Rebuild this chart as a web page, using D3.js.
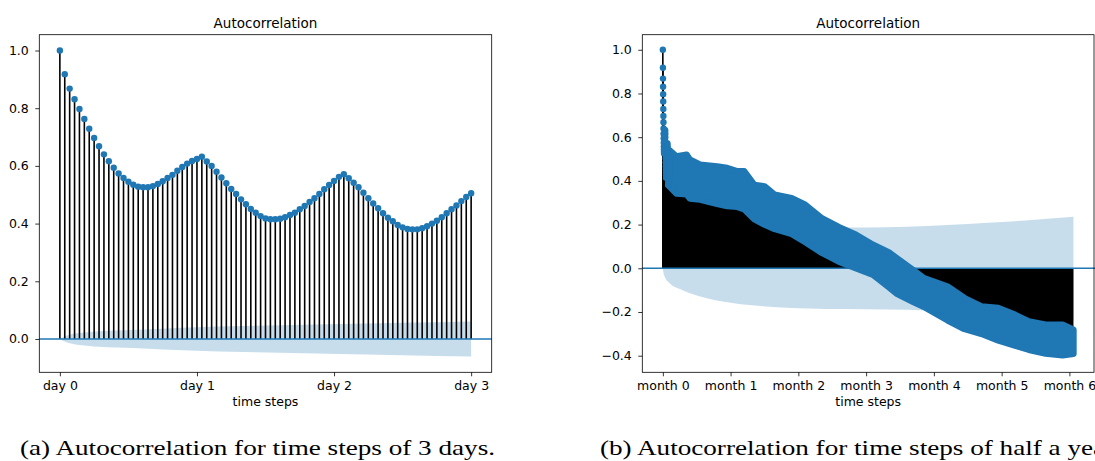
<!DOCTYPE html>
<html>
<head>
<meta charset="utf-8">
<script src="https://cdn.jsdelivr.net/npm/d3@7"></script>
<style>
  body { margin: 0; background: #fff; }
  text { font-family: "DejaVu Sans", sans-serif; fill: #000; }
  .caption { font-family: "Liberation Serif", "DejaVu Serif", serif; }
</style>
</head>
<body>
<svg id="fig" width="1095" height="461"></svg>
<script>
// ---- data ----
// acf for the first 3 days, 28 time steps per day (lags 0..84)
const acfDays = [
  1.000, 0.918, 0.868, 0.831, 0.797, 0.763, 0.729, 0.697, 0.668, 0.640,
  0.616, 0.594, 0.574, 0.558, 0.545, 0.535, 0.528, 0.526, 0.526, 0.530,
  0.537, 0.547, 0.558, 0.569, 0.583, 0.596, 0.608, 0.617, 0.624, 0.632,
  0.615, 0.600, 0.580, 0.560, 0.540, 0.520, 0.503, 0.484, 0.467, 0.451,
  0.438, 0.426, 0.418, 0.415, 0.415, 0.417, 0.422, 0.430, 0.438, 0.450,
  0.461, 0.475, 0.488, 0.503, 0.519, 0.534, 0.548, 0.562, 0.571, 0.557,
  0.542, 0.526, 0.507, 0.488, 0.470, 0.453, 0.436, 0.420, 0.408, 0.395,
  0.387, 0.381, 0.380, 0.380, 0.384, 0.391, 0.400, 0.410, 0.422, 0.436,
  0.450, 0.463, 0.478, 0.492, 0.505
];
const lagsPerDay = 28;
const daysPerMonth = 30.44;

// confidence band (half width) for the 3 day plot
const bandLagsA = [0, 1, 2, 4, 8, 15, 25, 40, 55, 70, 84];
const bandHalfA = [0, 0.009, 0.015, 0.021, 0.027, 0.031, 0.039, 0.046, 0.051, 0.056, 0.061];

// half year plot: range of acf values (highest / lowest) after the first 3 days
const spreadMonths = [0.1, 0.2, 0.35, 0.4, 0.55, 0.8, 0.95, 1.1, 1.2, 1.35, 1.5, 1.65, 1.9, 2.1,
  2.35, 2.6, 2.85, 3.1, 3.35, 3.45, 3.7, 3.85, 4.2, 4.45, 4.7, 4.95, 5.2, 5.4, 5.65, 5.9, 6.06];
const spreadHigh = [0.54, 0.512, 0.52, 0.497, 0.474, 0.466, 0.459, 0.444, 0.444, 0.382, 0.375,
  0.337, 0.321, 0.291, 0.228, 0.188, 0.154, 0.108, 0.07, 0.047, -0.009, -0.045, -0.083, -0.136,
  -0.174, -0.182, -0.213, -0.243, -0.258, -0.258, -0.281];
const spreadLow = [0.374, 0.342, 0.339, 0.319, 0.314, 0.295, 0.285, 0.281, 0.27, 0.225, 0.2,
  0.18, 0.157, 0.12, 0.07, 0.03, 0.0, -0.03, -0.09, -0.116, -0.155, -0.176, -0.238, -0.278,
  -0.3, -0.33, -0.354, -0.373, -0.39, -0.398, -0.391];

// confidence band (half width) for the half year plot
const bandMonthsB = [0, 0.005, 0.03, 0.1, 0.25, 0.4, 0.65, 0.9, 1.4, 1.9, 2.4, 3.0, 3.6, 4.2, 4.8, 5.4, 6.06];
const bandHalfB = [0, 0.012, 0.04, 0.068, 0.095, 0.114, 0.137, 0.153, 0.172, 0.182, 0.186, 0.187, 0.19, 0.198, 0.208, 0.22, 0.236];

const dayTicks = [0, 1, 2, 3];
const dayLabels = ["day 0", "day 1", "day 2", "day 3"];
const monthTicks = [0, 1, 2, 3, 4, 5, 6];
const monthLabels = ["month 0", "month 1", "month 2", "month 3", "month 4", "month 5", "month 6"];
const yTicksA = [0.0, 0.2, 0.4, 0.6, 0.8, 1.0];
const yTicksB = [-0.4, -0.2, 0.0, 0.2, 0.4, 0.6, 0.8, 1.0];

const captionA = "(a) Autocorrelation for time steps of 3 days.";
const captionB = "(b) Autocorrelation for time steps of half a year.";

// ---- drawing ----
const blue = "#1f77b4";
const svg = d3.select("#fig");
svg.append("rect").attr("width", 1095).attr("height", 461).attr("fill", "#fff");

function frame(x, y, xTicks, xFmt, yTicks) {
  const [x0, x1] = x.range();
  const [y0, y1] = y.range();
  const g = svg.append("g");

  // x axis
  const ax = g.append("g").attr("transform", `translate(0,${y0})`)
    .call(d3.axisBottom(x).tickValues(xTicks).tickFormat(xFmt).tickSize(4).tickPadding(5));
  ax.select(".domain").remove();
  ax.selectAll("line").attr("stroke", "#000").attr("stroke-width", 0.8);
  ax.selectAll("text").attr("font-size", 12.5).attr("font-family", "DejaVu Sans");

  // y axis
  const ay = g.append("g").attr("transform", `translate(${x0},0)`)
    .call(d3.axisLeft(y).tickValues(yTicks).tickFormat(d3.format(".1f")).tickSize(4).tickPadding(6.5));
  ay.select(".domain").remove();
  ay.selectAll("line").attr("stroke", "#000").attr("stroke-width", 0.8);
  ay.selectAll("text").attr("font-size", 12.5).attr("font-family", "DejaVu Sans");

  // title and x label
  g.append("text").attr("x", (x0 + x1) / 2).attr("y", 28.3)
    .attr("text-anchor", "middle").attr("font-size", 13.5).text("Autocorrelation");
  g.append("text").attr("x", (x0 + x1) / 2).attr("y", 406)
    .attr("text-anchor", "middle").attr("font-size", 12.5).text("time steps");
  return g;
}

function spines(x, y) {
  const [x0, x1] = x.range();
  const [y0, y1] = y.range();
  svg.append("rect").attr("x", x0).attr("y", y1)
    .attr("width", x1 - x0).attr("height", y0 - y1)
    .attr("fill", "none").attr("stroke", "#000").attr("stroke-width", 0.8);
}

// ---------- (a) 3 days ----------
{
  const x = d3.scaleLinear([-4.2, 88.2], [39.3, 491.7]);
  const y = d3.scaleLinear([-0.1155, 1.0548], [372.3, 34.7]);
  const lags = acfDays.map((v, i) => ({ lag: i, v }));

  frame(x, y, dayTicks.map(d => d * lagsPerDay), (d, i) => dayLabels[i], yTicksA);

  // confidence band sits under the stems
  const band = bandLagsA.map((l, i) => ({ l, h: bandHalfA[i] }));
  svg.append("path").datum(band)
    .attr("d", d3.area().x(d => x(d.l)).y0(d => y(-d.h)).y1(d => y(d.h)).curve(d3.curveMonotoneX))
    .attr("fill", blue).attr("fill-opacity", 0.25);

  svg.append("g").selectAll("line").data(lags).join("line")
    .attr("x1", d => x(d.lag)).attr("x2", d => x(d.lag))
    .attr("y1", y(0)).attr("y2", d => y(d.v))
    .attr("stroke", "#000").attr("stroke-width", 1.6);

  svg.append("line").attr("x1", x.range()[0]).attr("x2", x.range()[1])
    .attr("y1", y(0)).attr("y2", y(0)).attr("stroke", blue).attr("stroke-width", 1.5);

  svg.append("g").selectAll("circle").data(lags).join("circle")
    .attr("cx", d => x(d.lag)).attr("cy", d => y(d.v)).attr("r", 3.2).attr("fill", blue);

  spines(x, y);
}

// ---------- (b) half a year ----------
{
  const x = d3.scaleLinear([-0.303, 6.363], [642.3, 1094]);
  const y = d3.scaleLinear([-0.476, 1.069], [372.3, 34.7]);
  const first = acfDays.map((v, i) => ({ m: i / lagsPerDay / daysPerMonth, v }));
  const spread = spreadMonths.map((m, i) => ({ m, hi: spreadHigh[i], lo: spreadLow[i] }));

  frame(x, y, monthTicks, (d, i) => monthLabels[i], yTicksB);

  const band = bandMonthsB.map((m, i) => ({ m, h: bandHalfB[i] }));
  svg.append("path").datum(band)
    .attr("d", d3.area().x(d => x(d.m)).y0(d => y(-d.h)).y1(d => y(d.h)).curve(d3.curveMonotoneX))
    .attr("fill", blue).attr("fill-opacity", 0.25);

  // stems: the first days one by one, the rest as a filled block
  svg.append("path").datum(spread)
    .attr("d", d3.area().x(d => x(d.m)).y0(y(0)).y1(d => y(d.hi > 0 ? d.hi : d.lo)))
    .attr("fill", "#000");
  svg.append("g").selectAll("line").data(first).join("line")
    .attr("x1", d => x(d.m)).attr("x2", d => x(d.m))
    .attr("y1", y(0)).attr("y2", d => y(d.v))
    .attr("stroke", "#000").attr("stroke-width", 1.6);

  svg.append("line").attr("x1", x.range()[0]).attr("x2", 1095)
    .attr("y1", y(0)).attr("y2", y(0)).attr("stroke", blue).attr("stroke-width", 1.5);

  // markers
  svg.append("path").datum(spread)
    .attr("d", d3.area().x(d => x(d.m)).y0(d => y(d.lo)).y1(d => y(d.hi)))
    .attr("fill", blue).attr("stroke", blue).attr("stroke-width", 6.4)
    .attr("stroke-linejoin", "round");
  svg.append("g").selectAll("circle").data(first).join("circle")
    .attr("cx", d => x(d.m)).attr("cy", d => y(d.v)).attr("r", 3.2).attr("fill", blue);

  spines(x, y);
}

// ---------- captions ----------
const capA = svg.append("text").attr("class", "caption")
  .attr("x", 20).attr("y", 455).attr("font-size", 21).text(captionA);
const capB = svg.append("text").attr("class", "caption")
  .attr("x", 600).attr("y", 455).attr("font-size", 21).text(captionB);
const stretch = 475 / capA.node().getComputedTextLength();
capA.attr("textLength", 475).attr("lengthAdjust", "spacingAndGlyphs");
capB.attr("textLength", capB.node().getComputedTextLength() * stretch).attr("lengthAdjust", "spacingAndGlyphs");
</script>
</body>
</html>
